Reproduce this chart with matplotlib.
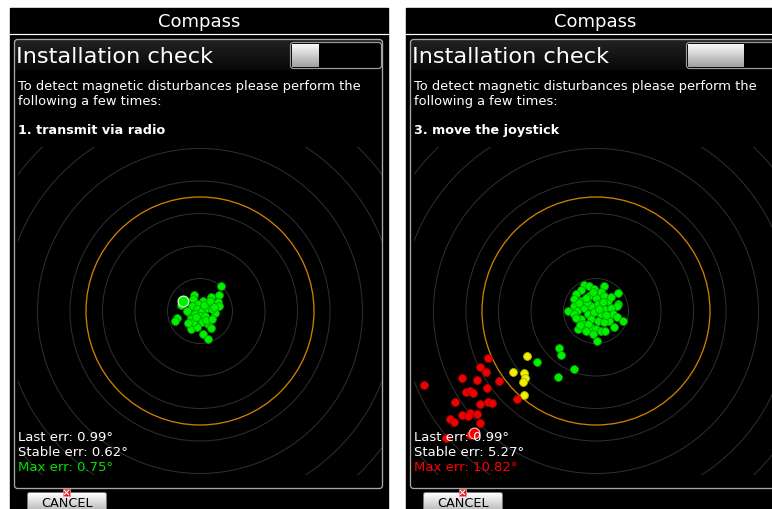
import numpy as np
import matplotlib
matplotlib.use("Agg")
import matplotlib.pyplot as plt
from matplotlib.patches import Rectangle, Circle, FancyBboxPatch
from matplotlib.colors import LinearSegmentedColormap

# two screenshots of the compass installation check, side by side
titles = ["Compass", "Compass"]
headers = ["Installation check", "Installation check"]
intro = "To detect magnetic disturbances please perform the\nfollowing a few times:"
steps = ["1. transmit via radio", "3. move the joystick"]
last_err = [0.99, 0.99]
stable_err = [0.62, 5.27]
max_err = [0.75, 10.82]
max_colors = ["#00e000", "#ff0000"]
progress = [0.30, 0.64]

# deviation samples, pixel offsets from ring centre (x right, y down)
left_green_dx = [21, 19, 18, 19, 15, 11, 3, -6, -7, -2, 8, -8, -3, 2, 7, 12, -10, -5, 0, 5,
                 -9, -3, 2, 8, 11, -9, -3, -23, -25, -19, 3, 8, -13, -7, 4, -4, 6, 10, 14, -12, 12]
left_green_dy = [-25, -16, -9, -5, 2, -14, -10, -16, -12, -7, -7, -5, -2, 0, -3, -2, 3, 3, 5, 5,
                 8, 10, 11, 13, 17, 18, 16, 7, 10, -6, 23, 28, 0, 11, -6, 6, 9, -10, -4, 12, 8]
left_last = (-17, -10)

right_green_dx = [-12, -7, 8, -15, -2, 5, -20, -7, 0, 8, 22, -22, -15, 12, 22, 21, -28, -22, -19, -12,
                  -5, 2, 8, 15, -22, -8, -2, 5, 12, 17, 21, 27, -15, -5, 2, 13, -18, -12, -5, 0,
                  5, 18, -13, -8, -10, -3, 1, 8, -3, 7, -17, -9, 3, 10, -10, 15, -16, 9, -20,
                  -37, -35, -59, -22, -38]
right_green_dy = [-26, -25, -25, -21, -22, -19, -17, -15, -13, -15, -18, -12, -10, -10, -7, -5, 0, -5, 0, -3,
                  -5, -7, -2, -3, 3, 3, 1, 3, 5, 3, 6, 10, 8, 8, 10, 10, 18, 16, 16, 18,
                  20, 16, 13, 13, 20, 23, 30, 11, -19, -9, -8, -9, -2, 4, -13, -14, 14, 20, 7,
                  37, 44, 51, 58, 66]
right_yellow_dx = [-69, -83, -72, -71, -73, -72]
right_yellow_dy = [45, 61, 62, 67, 71, 84]
right_red_dx = [-108, -110, -97, -109, -79, -108, -104, -172, -134, -116, -119, -130, -126, -123,
                -141, -116, -126, -134, -128, -119, -146, -142, -116, -150, -126]
right_red_dy = [47, 61, 70, 77, 88, 91, 92, 74, 67, 56, 69, 81, 80, 82,
                91, 93, 102, 104, 105, 103, 108, 111, 112, 127, 124]
right_last = (-122, 122)

W, H = 772, 510
fig = plt.figure(figsize=(W / 100, H / 100), dpi=100)
fig.patch.set_facecolor("white")
ax = fig.add_axes([0, 0, 1, 1])
ax.set_axis_off()

PX = 0.72  # points per pixel at 100 dpi


def gradient(x0, x1, y0, y1, c_top, c_bot, z=2):
    cmap = LinearSegmentedColormap.from_list("g", [c_top, c_bot])
    ax.imshow(np.linspace(0, 1, 64)[:, None], extent=(x0, x1, y1, y0), cmap=cmap,
              aspect="auto", interpolation="bilinear", zorder=z)


def draw_panel(i, ox):
    px0, px1 = ox + 10, ox + 388
    ax.add_patch(Rectangle((px0, 9), px1 - px0, H, color="black", zorder=0))
    ax.text((px0 + px1) / 2, 22, titles[i], color="white", fontsize=13,
            ha="center", va="center", zorder=5)
    ax.plot([px0, px1], [34.5, 34.5], color="white", lw=1.2 * PX, zorder=5)

    # inner frame and header strip
    gradient(ox + 15, ox + 382, 41, 71, "#222222", "#080808", z=1)
    ax.add_patch(FancyBboxPatch((ox + 14.5, 40.5), 368, 449, boxstyle="round,pad=0,rounding_size=3",
                                fill=False, ec="#a8a8a8", lw=1.3 * PX, zorder=6))
    ax.text(ox + 16, 57, headers[i], color="white", fontsize=16.2, ha="left", va="center", zorder=5)

    # progress toggle
    ax.add_patch(FancyBboxPatch((ox + 290.5, 43.5), 91, 26, boxstyle="round,pad=0,rounding_size=3",
                                fc="black", ec="#9a9a9a", lw=1.2 * PX, zorder=3))
    kx1 = ox + 292 + progress[i] * 87
    gradient(ox + 292, kx1, 45, 68, "#fafafa", "#a0a0a0", z=4)

    ax.text(ox + 18, 94, intro, color="white", fontsize=9.4, ha="left", va="center",
            linespacing=1.28, zorder=5)
    ax.text(ox + 18, 131, steps[i], color="white", fontsize=9.2, fontweight="bold",
            ha="left", va="center", zorder=5)

    # rings
    cx, cy = ox + 200, 312
    clip = Rectangle((cx - 182, cy - 164), 364, 328, transform=ax.transData)
    for k in range(1, 8):
        c = Circle((cx, cy), 32.5 * k, fill=False, ec="#2f2f2f", lw=1.0 * PX, zorder=2)
        ax.add_patch(c)
        c.set_clip_path(clip)
    c = Circle((cx, cy), 114, fill=False, ec="#d08000", lw=1.3 * PX, zorder=2)
    ax.add_patch(c)
    c.set_clip_path(clip)

    ax.text(ox + 18, 438, f"Last err: {last_err[i]:.2f}°", color="white", fontsize=9.5,
            ha="left", va="center", zorder=8)
    ax.text(ox + 18, 453, f"Stable err: {stable_err[i]:.2f}°", color="white", fontsize=9.5,
            ha="left", va="center", zorder=8)
    ax.text(ox + 18, 467.5, f"Max err: {max_err[i]:.2f}°", color=max_colors[i], fontsize=9.5,
            ha="left", va="center", zorder=8)

    # cancel button
    gradient(ox + 28, ox + 106, 494, 512, "#ffffff", "#b8b8b8", z=3)
    ax.add_patch(FancyBboxPatch((ox + 27.5, 493.5), 79, 20, boxstyle="round,pad=0,rounding_size=2",
                                fill=False, ec="#777777", lw=1 * PX, zorder=4))
    ax.text(ox + 67, 504, "CANCEL", color="black", fontsize=9.3, ha="center", va="center", zorder=5)
    ax.add_patch(Rectangle((ox + 63, 490), 7, 7, fc="#e02020", ec="#ff9090", lw=0.5, zorder=7))
    ax.plot([ox + 64.5, ox + 68.5], [491.5, 495.5], color="white", lw=0.8, zorder=8)
    ax.plot([ox + 64.5, ox + 68.5], [495.5, 491.5], color="white", lw=0.8, zorder=8)
    return cx, cy


def dots(cx, cy, dx, dy, fc, ec):
    ax.scatter(cx + np.array(dx), cy + np.array(dy), s=32, c=fc, edgecolors=ec,
               linewidths=0.6, zorder=7)


cx, cy = draw_panel(0, 0)
dots(cx, cy, left_green_dx, left_green_dy, "#00f000", "#00a000")
ax.scatter([cx + left_last[0]], [cy + left_last[1]], s=60, c="#00f000", edgecolors="#d0ffd0",
           linewidths=0.9, zorder=7)

cx, cy = draw_panel(1, 396)
dots(cx, cy, right_green_dx, right_green_dy, "#00f000", "#00a000")
dots(cx, cy, right_yellow_dx, right_yellow_dy, "#f0f000", "#b0b000")
dots(cx, cy, right_red_dx, right_red_dy, "#f00000", "#b00000")
ax.scatter([cx + right_last[0]], [cy + right_last[1]], s=60, c="#f00000", edgecolors="#ffb0b0",
           linewidths=0.9, zorder=7)

ax.set_xlim(0, W)
ax.set_ylim(H, 0)
fig.savefig("out.png", dpi=100, facecolor="white")
